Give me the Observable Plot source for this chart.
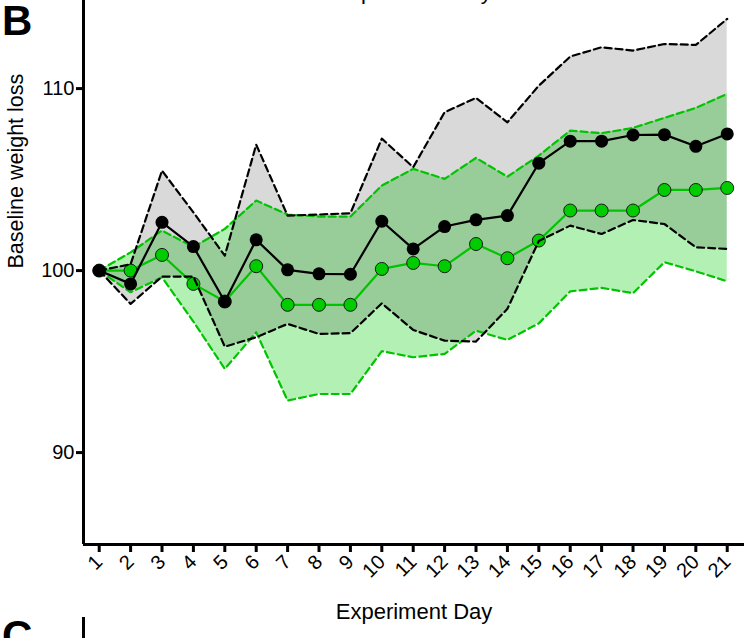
<!DOCTYPE html>
<html>
<head>
<meta charset="utf-8">
<script src="https://cdn.jsdelivr.net/npm/d3@7"></script>
<script src="https://cdn.jsdelivr.net/npm/@observablehq/plot@0.6"></script>
<style>
  body { margin: 0; background: #fff; font-family: "Liberation Sans", Arial, sans-serif; }
  #wrap { position: relative; width: 744px; height: 638px; overflow: hidden; }
  #wrap svg { position: absolute; left: 0; top: 0; }
  .panel { position: absolute; font-weight: bold; font-size: 42px; line-height: 42px; color: #000; }
  .prev-label { position: absolute; left: 83px; width: 661px; text-align: center; font-size: 22px; line-height: 22px; top: -19px; }
  .next-axis { position: absolute; left: 82px; top: 617px; width: 3px; height: 30px; background: #000; }
</style>
</head>
<body>
<div id="wrap">
  <div class="prev-label">Experiment Day</div>
  <div class="panel" style="left:2px; top:0px;">B</div>
  <div class="panel" style="left:2px; top:615px;">C</div>
  <div class="next-axis"></div>
</div>
<script>
// Experiment days
const days = [1, 2, 3, 4, 5, 6, 7, 8, 9, 10, 11, 12, 13, 14, 15, 16, 17, 18, 19, 20, 21];

// Control group (black): mean and band limits
const controlMean = [100, 99.27, 102.65, 101.32, 98.30, 101.69, 100.04, 99.82, 99.80, 102.71, 101.19, 102.42, 102.79, 103.02, 105.90, 107.11, 107.11, 107.45, 107.47, 106.83, 107.51];
const controlHigh = [100, 100.35, 105.49, 103.2, 100.82, 106.92, 103.02, 103.08, 103.15, 107.25, 105.68, 108.70, 109.49, 108.15, 110.16, 111.76, 112.27, 112.09, 112.45, 112.40, 113.83];
const controlLow  = [100, 98.17, 99.67, 99.67, 95.82, 96.34, 97.07, 96.52, 96.56, 98.20, 96.74, 96.15, 96.10, 97.90, 101.63, 102.47, 102.01, 102.78, 102.56, 101.28, 101.19];

// Treated group (green): mean and band limits
const treatedMean = [100, 100.0, 100.86, 99.27, 98.30, 100.24, 98.12, 98.12, 98.12, 100.09, 100.42, 100.24, 101.46, 100.68, 101.65, 103.30, 103.30, 103.30, 104.43, 104.43, 104.54];
const treatedHigh = [100, 101.0, 102.20, 101.3, 102.29, 103.85, 103.08, 102.97, 102.97, 104.67, 105.59, 105.04, 106.19, 105.16, 106.32, 107.69, 107.55, 107.84, 108.39, 108.94, 109.71];
const treatedLow  = [100, 98.81, 99.63, 97.2, 94.60, 96.61, 92.86, 93.22, 93.22, 95.57, 95.24, 95.42, 96.70, 96.19, 97.10, 98.86, 99.05, 98.76, 100.46, 99.96, 99.41];

const yTicks = [90, 100, 110];

const rows = days.map((day, i) => ({
  day,
  cMean: controlMean[i], cHigh: controlHigh[i], cLow: controlLow[i],
  tMean: treatedMean[i], tHigh: treatedHigh[i], tLow: treatedLow[i]
}));

const xDomain = [0.5, 21.55];
const yDomain = [84.95, 114.84];
const green = "#00c400";
const dash = "7,4";

const chart = Plot.plot({
  width: 744,
  height: 638,
  marginTop: 0,
  marginLeft: 83,
  marginRight: 0,
  marginBottom: 94,
  style: { fontFamily: "'Liberation Sans', Arial, sans-serif", fontSize: "20px", color: "#000", background: "transparent", overflow: "visible" },
  x: { domain: xDomain },
  y: { domain: yDomain },
  marks: [
    // spread bands
    Plot.areaY(rows, { x: "day", y1: "tLow", y2: "tHigh", fill: "#b3f0b3" }),
    Plot.areaY(rows, { x: "day", y1: "cLow", y2: "cHigh", fill: "#000", fillOpacity: 0.15 }),
    // treated group
    Plot.lineY(rows, { x: "day", y: "tHigh", stroke: green, strokeWidth: 2.2, strokeDasharray: dash }),
    Plot.lineY(rows, { x: "day", y: "tLow", stroke: green, strokeWidth: 2.2, strokeDasharray: dash }),
    Plot.lineY(rows, { x: "day", y: "tMean", stroke: green, strokeWidth: 2.2 }),
    Plot.dot(rows, { x: "day", y: "tMean", r: 6.5, fill: "#00cc00", stroke: "#1a1a1a", strokeWidth: 1 }),
    // control group
    Plot.lineY(rows, { x: "day", y: "cHigh", stroke: "#000", strokeWidth: 2.2, strokeDasharray: dash }),
    Plot.lineY(rows, { x: "day", y: "cLow", stroke: "#000", strokeWidth: 2.2, strokeDasharray: dash }),
    Plot.lineY(rows, { x: "day", y: "cMean", stroke: "#000", strokeWidth: 2.2 }),
    Plot.dot(rows, { x: "day", y: "cMean", r: 6.5, fill: "#000" }),
    // axes
    Plot.ruleX([xDomain[0]], { stroke: "#000", strokeWidth: 3 }),
    Plot.ruleY([yDomain[0]], { stroke: "#000", strokeWidth: 3 }),
    Plot.axisY(yTicks, { tickSize: 7, tickPadding: 2, strokeWidth: 3, label: null, fontSize: 20 }),
    Plot.axisX(days, { tickSize: 8, tickPadding: 6, tickRotate: -45, strokeWidth: 3, label: null, fontSize: 20 }),
    Plot.text(["Baseline weight loss"], { frameAnchor: "left", rotate: -90, dx: -67, dy: -4, fontSize: 21.5, fill: "#000" }),
    Plot.text(["Experiment Day"], { frameAnchor: "bottom", dy: 74, fontSize: 22, fill: "#000" })
  ]
});

document.getElementById("wrap").prepend(chart);
</script>
</body>
</html>
